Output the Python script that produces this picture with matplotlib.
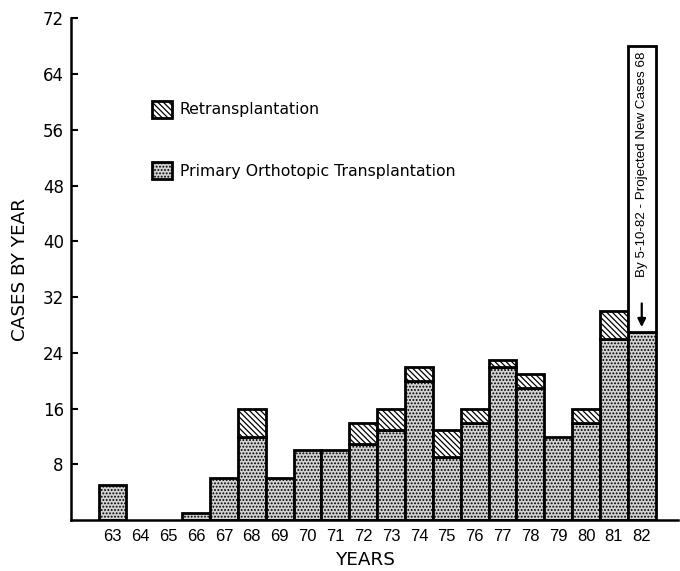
import numpy as np
import matplotlib
matplotlib.use('Agg')
from matplotlib import pyplot as plt
from matplotlib.patches import Patch

plt.rcParams['font.family'] = ['DejaVu Sans']
plt.rcParams['hatch.linewidth'] = 0.9

years = ['63', '64', '65', '66', '67', '68', '69', '70', '71', '72',
         '73', '74', '75', '76', '77', '78', '79', '80', '81', '82']
primary = [5, 0, 0, 1, 6, 12, 6, 10, 10, 11, 13, 20, 9, 14, 22, 19, 12, 14, 26, 27]
retrans = [0, 0, 0, 0, 0, 4, 0, 0, 0, 3, 3, 2, 4, 2, 1, 2, 0, 2, 4, 0]
projected_total = 68
note = 'By 5-10-82 - Projected New Cases 68'

x = np.arange(len(years))
primary = np.array(primary)
retrans = np.array(retrans)

fig = plt.figure(figsize=(6.8, 5.71), dpi=100)
ax = fig.add_axes([0.104, 0.089, 0.893, 0.879])

gray = '#d2d2d2'
dots = '.....'
lines = '\\' * 6
stip = dict(color=gray, edgecolor='black', hatch=dots, linewidth=2.0, width=1.0)
hatc = dict(color='white', edgecolor='black', hatch=lines, linewidth=2.0, width=1.0)

ax.bar(x[primary > 0], primary[primary > 0], **stip)
m = retrans > 0
ax.bar(x[m], retrans[m], bottom=primary[m], **hatc)

# projection box on the last year
last = len(years) - 1
ax.bar(x[last], projected_total - primary[last], bottom=primary[last],
       color='white', edgecolor='black', linewidth=2.0, width=1.0)
ax.text(x[last], 51.0, note, rotation=90, ha='center', va='center', fontsize=9.6,
        family='Liberation Sans')
ax.annotate('', xy=(x[last], primary[last] + 0.3), xytext=(x[last], primary[last] + 4.5),
            arrowprops=dict(arrowstyle='-|>', color='black', lw=1.6, mutation_scale=12))

ax.set_xlim(-1.5, last + 1.3)
ax.set_ylim(0, 72)
ax.set_yticks(np.arange(8, 73, 8))
ax.set_xticks(x)
ax.set_xticklabels(years, family='Liberation Sans')
ax.tick_params(axis='y', direction='in', length=5, width=1.5, labelsize=12, pad=5)
ax.tick_params(axis='x', length=0, labelsize=12, pad=6)
for s in ['top', 'right']:
    ax.spines[s].set_visible(False)
for s in ['left', 'bottom']:
    ax.spines[s].set_linewidth(1.8)

ax.set_xlabel('YEARS', fontsize=13.2)
ax.xaxis.set_label_coords(0.486, -0.062)
ax.set_ylabel('CASES BY YEAR', fontsize=13.2)
ax.yaxis.set_label_coords(-0.069, 0.5)

handles = [Patch(facecolor='white', edgecolor='black', hatch=lines, linewidth=2.0),
           Patch(facecolor=gray, edgecolor='black', hatch=dots, linewidth=2.0)]
ax.legend(handles, ['Retransplantation', 'Primary Orthotopic Transplantation'],
          loc='upper left', bbox_to_anchor=(0.11, 0.864), frameon=False, fontsize=11.3,
          handlelength=1.3, handleheight=1.3, labelspacing=2.8, handletextpad=0.5)

plt.savefig('out.png', dpi=100)
